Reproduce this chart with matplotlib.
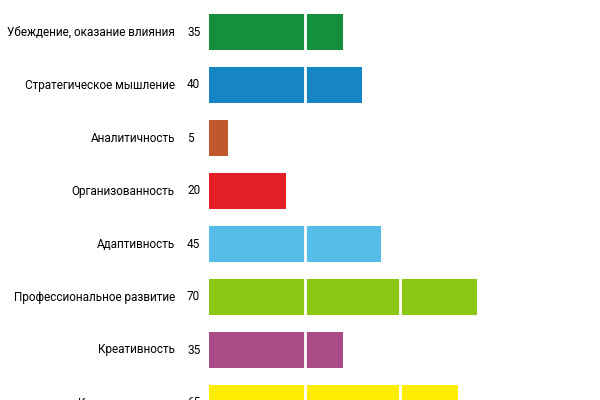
import matplotlib
matplotlib.use("Agg")
import matplotlib.pyplot as plt
from matplotlib.transforms import blended_transform_factory

categories = ["Убеждение, оказание влияния", "Стратегическое мышление", "Аналитичность",
              "Организованность", "Адаптивность", "Профессиональное развитие",
              "Креативность", "Кооперативность"]
values = [35, 40, 5, 20, 45, 70, 35, 65]
colors = ["#148F3A", "#1585C4", "#C0582B", "#E31E24", "#56BDEA", "#8CC714", "#AA4A86", "#FFED00"]

fig = plt.figure(figsize=(6, 4), dpi=100)
ax = fig.add_axes([209/600, 0, 1 - 209/600, 1])
y = list(range(len(categories)))
ax.barh(y, values, height=0.68, color=colors, zorder=1)
for g in [25, 50, 75]:
    ax.axvline(g, color="white", lw=2, zorder=2)
ax.set_xlim(0, 102.2)
ax.set_ylim((400 - 32) / 53, -32 / 53)
ax.axis("off")
tr = blended_transform_factory(fig.transFigure, ax.transData)
for i, (c, v) in enumerate(zip(categories, values)):
    ax.text(175/600, i, c, transform=tr, ha="right", va="center", fontsize=8.5, family="Roboto")
    ax.text(187/600, i, str(v), transform=tr, ha="left", va="center", fontsize=8.5, family="Roboto")
fig.savefig("out.png", dpi=100)
